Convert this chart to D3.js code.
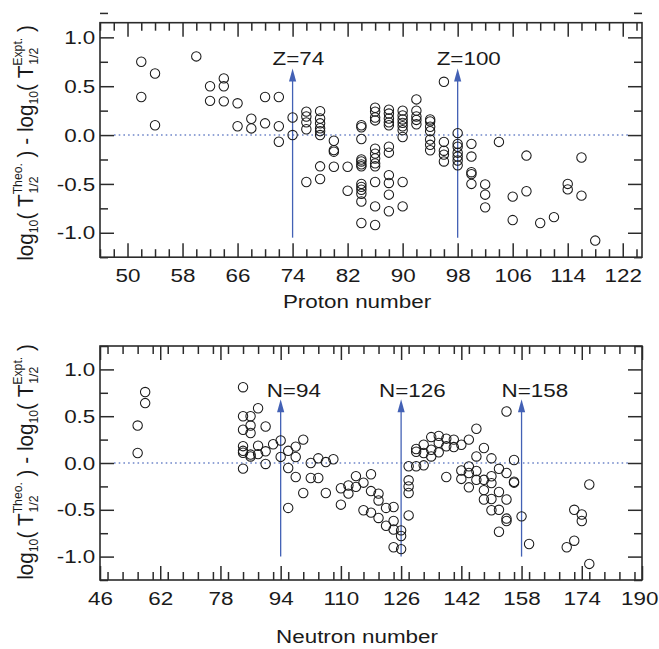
<!DOCTYPE html>
<html>
<head>
<meta charset="utf-8">
<script src="https://cdn.jsdelivr.net/npm/d3@7"></script>
<style>
  body { margin: 0; background: #fff; }
  svg text { font-family: "Liberation Sans", Arial, Helvetica, sans-serif; fill: #1a1a1a; }
</style>
</head>
<body>
<div id="chart"></div>
<script>
// deviation log10(T theo) - log10(T expt), grouped by proton number Z
const protonData = [
  [52, [0.75, 0.39]],
  [54, [0.63, 0.10]],
  [60, [0.805]],
  [62, [0.50, 0.35]],
  [64, [0.58, 0.50, 0.345]],
  [66, [0.325, 0.09]],
  [68, [0.167, 0.068]],
  [70, [0.39, 0.12]],
  [72, [0.39, 0.09, -0.068]],
  [74, [0.18, 0.0]],
  [76, [0.24, 0.19, 0.13, 0.06, -0.48]],
  [78, [0.245, 0.17, 0.12, 0.07, 0.04, 0.0, -0.32, -0.45]],
  [80, [-0.058, -0.154, -0.17, -0.324]],
  [82, [-0.324, -0.57]],
  [84, [0.10, 0.08, -0.04, -0.25, -0.27, -0.30, -0.32, -0.50, -0.53, -0.56, -0.60, -0.68, -0.90]],
  [86, [0.28, 0.24, 0.18, 0.15, -0.14, -0.19, -0.24, -0.29, -0.32, -0.48, -0.73, -0.92]],
  [88, [0.26, 0.22, 0.17, 0.13, 0.10, -0.12, -0.18, -0.41, -0.49, -0.61, -0.78]],
  [90, [0.25, 0.20, 0.16, 0.125, 0.09, 0.05, -0.02, -0.48, -0.73]],
  [92, [0.365, 0.25, 0.19, 0.155, 0.11]],
  [94, [0.16, 0.14, 0.085, 0.04, -0.045, -0.10, -0.155]],
  [96, [0.545, -0.07, -0.16, -0.20, -0.27]],
  [98, [0.02, -0.09, -0.12, -0.18, -0.22, -0.26, -0.31]],
  [100, [-0.09, -0.22, -0.38, -0.40, -0.50]],
  [102, [-0.505, -0.61, -0.74]],
  [104, [-0.07]],
  [106, [-0.63, -0.87]],
  [108, [-0.21, -0.575]],
  [110, [-0.90]],
  [112, [-0.84]],
  [114, [-0.50, -0.556]],
  [116, [-0.23, -0.62]],
  [118, [-1.08]]
]

// same deviations grouped by neutron number N
const neutronData = [
  [56, [0.40, 0.107]],
  [58, [0.758, 0.64]],
  [84, [0.81, 0.50, 0.355, 0.18, 0.13, 0.11, -0.06]],
  [86, [0.50, 0.40, 0.32, 0.09, 0.07]],
  [88, [0.585, 0.185, 0.095]],
  [90, [0.39, 0.125, -0.01]],
  [92, [0.20]],
  [94, [0.24, 0.065]],
  [96, [0.13, -0.053, -0.48]],
  [98, [0.175, 0.064, -0.15]],
  [100, [0.25, -0.32]],
  [102, [0.0, -0.16]],
  [104, [0.05, -0.16]],
  [106, [0.01, -0.32]],
  [108, [0.04]],
  [110, [-0.27, -0.445]],
  [112, [-0.24, -0.327]],
  [114, [-0.14, -0.255]],
  [116, [-0.21, -0.505]],
  [118, [-0.12, -0.30, -0.53]],
  [120, [-0.327, -0.40, -0.587]],
  [122, [-0.48, -0.67]],
  [124, [-0.47, -0.62, -0.71, -0.90]],
  [126, [-0.72, -0.78, -0.92]],
  [128, [-0.035, -0.185, -0.25, -0.32, -0.56]],
  [130, [0.15, 0.12, -0.035]],
  [132, [0.195, 0.107, -0.025]],
  [134, [0.277, 0.142, 0.07]],
  [136, [0.29, 0.215, 0.114]],
  [138, [0.26, 0.178, -0.15]],
  [140, [0.25, 0.17]],
  [142, [0.195, -0.08, -0.17]],
  [144, [0.25, -0.036, -0.107, -0.26]],
  [146, [0.366, 0.07, -0.085, -0.18]],
  [148, [0.16, -0.18, -0.29, -0.39]],
  [150, [0.05, -0.142, -0.215, -0.385, -0.505]],
  [152, [-0.062, -0.31, -0.50, -0.735]],
  [154, [0.55, -0.107, -0.39, -0.594, -0.62]],
  [156, [0.032, -0.20, -0.21]],
  [158, [-0.57]],
  [160, [-0.865]],
  [170, [-0.90]],
  [172, [-0.50, -0.83]],
  [174, [-0.55, -0.62]],
  [176, [-0.23, -1.078]]
]

const protonTicks = [50, 58, 66, 74, 82, 90, 98, 106, 114, 122]
const neutronTicks = [46, 62, 78, 94, 110, 126, 142, 158, 174, 190]
const yTicks = [-1, -0.5, 0, 0.5, 1]

const protonMarks = [74, 98]
const protonMarkText = ["Z=74", "Z=100"]
const neutronMarks = [94, 126, 158]
const neutronMarkText = ["N=94", "N=126", "N=158"]

const width = 659, height = 649
const left = 100, plotW = 542
const stretch = 1.18   // tick text looks wider than plain Arial
const blue = "#4361b5", ink = "#2b2b2b"

const svg = d3.select("#chart").append("svg")
  .attr("width", width)
  .attr("height", height)

const panels = [
  { top: 22.7, h: 234.5, data: protonData, xDomain: [46, 124.8], yDomain: [-1.25, 1.15],
    xTicks: protonTicks, xMinor: 2, marks: protonMarks, markText: protonMarkText,
    markDx: [-20, -21], tip: 0.68, foot: -1.05, textY: 0.717, pad: 11,
    title: "Proton number", titleY: 308, labelY: 143 },
  { top: 346, h: 234, data: neutronData, xDomain: [46, 190], yDomain: [-1.25, 1.25],
    xTicks: neutronTicks, xMinor: 4, marks: neutronMarks, markText: neutronMarkText,
    markDx: [-14, -22, -20], tip: 0.68, foot: -1.0, textY: 0.705, pad: 12,
    title: "Neutron number", titleY: 643, labelY: 462 }
]

const fmt = d => d3.format(".1f")(d).replace("−", "-")

panels.forEach(p => drawPanel(p))

function drawPanel(p) {
  const x = d3.scaleLinear().domain(p.xDomain).range([0, plotW])
  const y = d3.scaleLinear().domain(p.yDomain).range([p.h, 0])

  const g = svg.append("g").attr("transform", `translate(${left},${p.top})`)

  const xMinor = d3.range(Math.ceil(p.xDomain[0] / p.xMinor) * p.xMinor, p.xDomain[1], p.xMinor)
    .filter(v => !p.xTicks.includes(v))
  const yMinor = d3.range(-1.25, 1.26, 0.25).filter(v => !yTicks.some(t => Math.abs(t - v) < 1e-6))

  const major = 14, minor = 8

  // bottom / top
  g.append("g").attr("class", "ax xb").attr("transform", `translate(0,${p.h})`)
    .call(d3.axisBottom(x).tickValues(p.xTicks).tickSize(-major).tickPadding(p.pad).tickFormat(d3.format("d")))
  g.append("g").attr("class", "ax").attr("transform", `translate(0,${p.h})`)
    .call(d3.axisBottom(x).tickValues(xMinor).tickSize(-minor).tickFormat(""))
  g.append("g").attr("class", "ax")
    .call(d3.axisTop(x).tickValues(p.xTicks).tickSize(-major).tickFormat(""))
  g.append("g").attr("class", "ax")
    .call(d3.axisTop(x).tickValues(xMinor).tickSize(-minor).tickFormat(""))

  // left / right
  g.append("g").attr("class", "ax yl")
    .call(d3.axisLeft(y).tickValues(yTicks).tickSize(-major).tickPadding(4).tickFormat(fmt))
  g.append("g").attr("class", "ax")
    .call(d3.axisLeft(y).tickValues(yMinor).tickSize(-minor).tickFormat(""))
  g.append("g").attr("class", "ax").attr("transform", `translate(${plotW},0)`)
    .call(d3.axisRight(y).tickValues(yTicks).tickSize(-major).tickFormat(""))
  g.append("g").attr("class", "ax").attr("transform", `translate(${plotW},0)`)
    .call(d3.axisRight(y).tickValues(yMinor).tickSize(-minor).tickFormat(""))

  g.selectAll(".ax .domain").remove()
  g.selectAll(".ax line").attr("stroke", ink).attr("stroke-width", 1.5)
  g.selectAll(".ax text")
    .attr("font-size", 19)
    .attr("fill", "#1a1a1a")
    .attr("font-family", "Liberation Sans, Arial, sans-serif")
    .attr("transform", `scale(${stretch},1)`)

  // keep the last label inside the page
  g.selectAll(".xb .tick text")
    .filter(d => x(d) + left + 19 > width)
    .attr("text-anchor", "end")
    .attr("x", (width - 1 - left - x(p.xDomain[1])) / stretch + 0)
    .attr("transform", `translate(0,0) scale(${stretch},1)`)
    .each(function () {
      const w = this.getComputedTextLength() * stretch
      d3.select(this).attr("text-anchor", "middle").attr("x", (width - 1 - left - plotW - w / 2) / stretch)
    })

  g.append("rect")
    .attr("width", plotW).attr("height", p.h)
    .attr("fill", "none").attr("stroke", ink).attr("stroke-width", 1.6)

  // zero reference
  g.append("line")
    .attr("x1", major).attr("x2", plotW - major)
    .attr("y1", y(0)).attr("y2", y(0))
    .attr("stroke", "#6f86c9").attr("stroke-width", 1.5)
    .attr("stroke-dasharray", "1.6,3.1")

  // magic number arrows
  p.marks.forEach((m, i) => {
    const mx = x(m), ty = y(p.tip)
    g.append("line")
      .attr("x1", mx).attr("x2", mx)
      .attr("y1", y(p.foot)).attr("y2", ty + 10)
      .attr("stroke", blue).attr("stroke-width", 1.3)
    g.append("path")
      .attr("d", `M${mx},${ty} L${mx - 3.6},${ty + 13} L${mx + 3.6},${ty + 13} Z`)
      .attr("fill", blue)
    g.append("text")
      .attr("transform", `translate(${mx + p.markDx[i]},${y(p.textY)}) scale(${stretch},1)`)
      .attr("font-size", 19)
      .text(p.markText[i])
  })

  // points
  const pts = p.data.flatMap(([k, vals]) => vals.map(v => ({ k, v })))
  g.selectAll("circle.pt").data(pts).enter().append("circle")
    .attr("class", "pt")
    .attr("cx", d => x(d.k))
    .attr("cy", d => y(d.v))
    .attr("r", 4.7)
    .attr("fill", "none")
    .attr("stroke", "#1a1a1a")
    .attr("stroke-width", 1.05)

  svg.append("text")
    .attr("transform", `translate(357,${p.titleY}) scale(${stretch},1)`)
    .attr("text-anchor", "middle")
    .attr("font-size", 19)
    .text(p.title)

  yTitle(33, p.labelY)
}

function yTitle(bx, cy) {
  const big = 22, small = 13
  const g = svg.append("g").attr("transform", `translate(${bx},${cy}) rotate(-90) scale(0.94,1)`)
  const inner = g.append("g")
  const parts = [
    { t: "log", s: big },
    { t: "10", s: small, dy: 5 },
    { t: "(\u00a0T", s: big },
    { t: "Theo.", s: small, dy: -11, t2: "1/2", dy2: 5 },
    { t: "\u00a0)\u00a0-\u00a0log", s: big },
    { t: "10", s: small, dy: 5 },
    { t: "(\u00a0T", s: big },
    { t: "Expt.", s: small, dy: -11, t2: "1/2", dy2: 5 },
    { t: "\u00a0)", s: big }
  ]
  let pos = 0
  parts.forEach(pt => {
    const a = inner.append("text").attr("x", pos).attr("y", pt.dy || 0)
      .attr("font-size", pt.s).text(pt.t)
    let w = a.node().getComputedTextLength()
    if (pt.t2) {
      const b = inner.append("text").attr("x", pos + 1).attr("y", pt.dy2)
        .attr("font-size", pt.s).text(pt.t2)
      w = Math.max(w, b.node().getComputedTextLength() + 1)
    }
    pos += w
  })
  inner.attr("transform", `translate(${-pos / 2},0)`)
}
</script>
</body>
</html>
